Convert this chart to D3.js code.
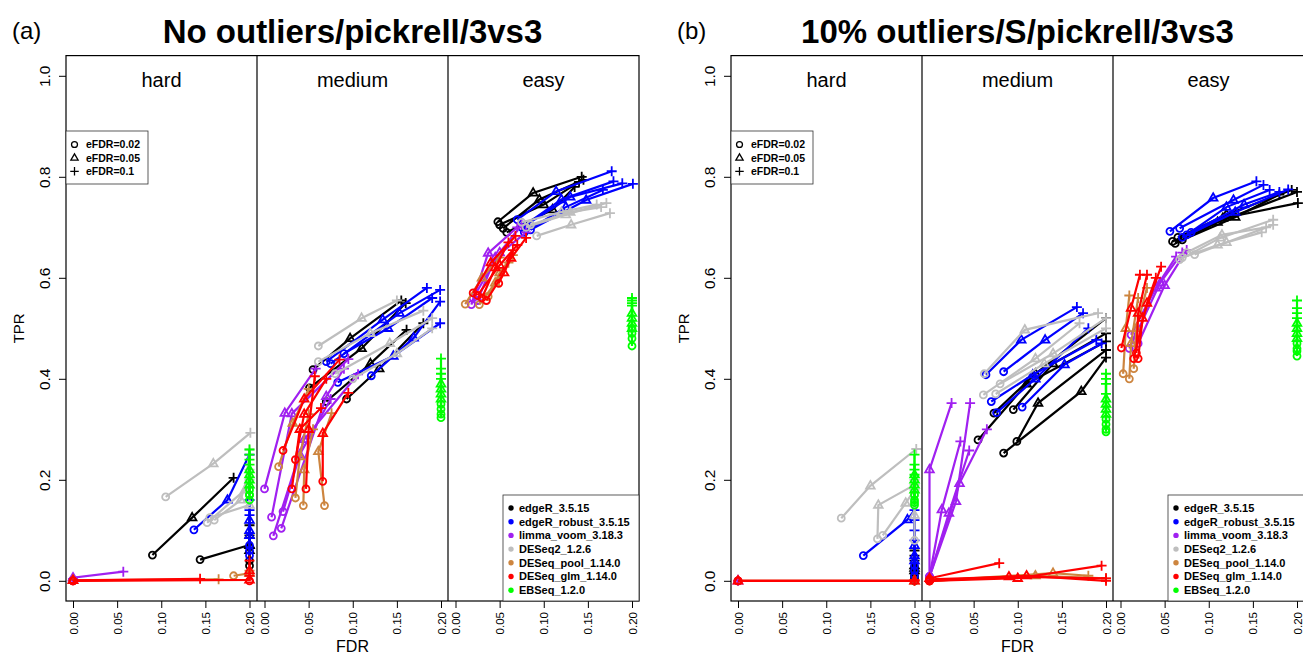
<!DOCTYPE html>
<html>
<head>
<meta charset="utf-8">
<script src="https://cdnjs.cloudflare.com/ajax/libs/d3/7.8.5/d3.min.js"></script>
<style>
  body { margin: 0; background: #fff; }
  svg { display: block; font-family: "Liberation Sans", Arial, sans-serif; }
</style>
</head>
<body>
<svg id="chart"></svg>
<script>
//*************** data ******************//

var methods = ["edgeR", "robust", "voom", "DESeq2", "pool", "glm", "EBSeq"];
var methodLabels = ["edgeR_3.5.15", "edgeR_robust_3.5.15", "limma_voom_3.18.3", "DESeq2_1.2.6",
                    "DESeq_pool_1.14.0", "DESeq_glm_1.14.0", "EBSeq_1.2.0"];
var methodColors = ["#000000", "#0000FF", "#A020F0", "#BEBEBE", "#CD853F", "#FF0000", "#00FF00"];
var difficulties = ["hard", "medium", "easy"];
var eFDRLabels = ["eFDR=0.02", "eFDR=0.05", "eFDR=0.1"];
var xTicks = [0, 0.05, 0.10, 0.15, 0.20];
var yTicks = [0, 0.2, 0.4, 0.6, 0.8, 1.0];
var panelTags = ["(a)", "(b)"];
var panelTitles = ["No outliers/pickrell/3vs3", "10% outliers/S/pickrell/3vs3"];

// one row = one replicate: [method, FDR@0.02, TPR@0.02, FDR@0.05, TPR@0.05, FDR@0.1, TPR@0.1]
var noOut_hard = [
  ["edgeR", 0.090,0.051, 0.135,0.125, 0.182,0.204],
  ["edgeR", 0.144,0.042, 0.200,0.071, 0.200,0.090],
  ["edgeR", 0.200,0.030, 0.200,0.060, 0.200,0.085],
  ["edgeR", 0.200,0.040, 0.200,0.070, 0.200,0.110],
  ["robust", 0.137,0.101, 0.175,0.160, 0.200,0.250],
  ["robust", 0.200,0.050, 0.200,0.100, 0.200,0.140],
  ["robust", 0.200,0.070, 0.200,0.120, 0.200,0.160],
  ["robust", 0.200,0.060, 0.200,0.090, 0.200,0.130],
  ["voom", 0.000,0.002, 0.000,0.006, 0.057,0.018],
  ["voom", 0.000,0.000, 0.000,0.002, 0.000,0.004],
  ["DESeq2", 0.105,0.166, 0.159,0.232, 0.201,0.293],
  ["DESeq2", 0.152,0.115, 0.195,0.180, 0.200,0.260],
  ["DESeq2", 0.160,0.120, 0.190,0.160, 0.200,0.220],
  ["DESeq2", 0.155,0.125, 0.200,0.150, 0.200,0.200],
  ["pool", 0.182,0.010, 0.200,0.015, 0.200,0.020],
  ["pool", 0.000,0.000, 0.000,0.001, 0.165,0.003],
  ["glm", 0.000,0.000, 0.000,0.001, 0.144,0.004],
  ["glm", 0.000,0.000, 0.200,0.002, 0.200,0.010],
  ["glm", 0.200,0.000, 0.200,0.020, 0.200,0.040],
  ["EBSeq", 0.200,0.160, 0.200,0.200, 0.200,0.260],
  ["EBSeq", 0.200,0.170, 0.200,0.210, 0.200,0.240],
  ["EBSeq", 0.200,0.180, 0.200,0.220, 0.200,0.250],
  ["EBSeq", 0.200,0.170, 0.200,0.190, 0.200,0.230]
];

var noOut_medium = [
  ["edgeR", 0.055,0.418, 0.097,0.480, 0.155,0.555],
  ["edgeR", 0.051,0.382, 0.110,0.460, 0.160,0.550],
  ["edgeR", 0.070,0.355, 0.120,0.430, 0.161,0.497],
  ["edgeR", 0.093,0.360, 0.130,0.420, 0.180,0.510],
  ["robust", 0.070,0.434, 0.134,0.517, 0.184,0.580],
  ["robust", 0.083,0.393, 0.146,0.445, 0.199,0.510],
  ["robust", 0.121,0.406, 0.169,0.481, 0.199,0.553],
  ["robust", 0.075,0.430, 0.153,0.530, 0.199,0.576],
  ["robust", 0.090,0.450, 0.140,0.500, 0.190,0.560],
  ["voom", 0.000,0.182, 0.023,0.332, 0.058,0.420],
  ["voom", 0.008,0.126, 0.031,0.331, 0.095,0.439],
  ["voom", 0.010,0.089, 0.045,0.280, 0.106,0.409],
  ["voom", 0.019,0.104, 0.070,0.365, 0.090,0.420],
  ["voom", 0.021,0.137, 0.040,0.250, 0.075,0.360],
  ["DESeq2", 0.061,0.465, 0.110,0.520, 0.150,0.555],
  ["DESeq2", 0.061,0.434, 0.120,0.490, 0.180,0.535],
  ["DESeq2", 0.080,0.410, 0.142,0.470, 0.190,0.520],
  ["DESeq2", 0.100,0.400, 0.150,0.450, 0.190,0.500],
  ["pool", 0.016,0.226, 0.032,0.312, 0.050,0.380],
  ["pool", 0.035,0.164, 0.040,0.246, 0.050,0.330],
  ["pool", 0.044,0.149, 0.045,0.220, 0.055,0.300],
  ["pool", 0.068,0.149, 0.061,0.256, 0.076,0.332],
  ["glm", 0.021,0.258, 0.045,0.360, 0.085,0.438],
  ["glm", 0.031,0.182, 0.040,0.300, 0.064,0.342],
  ["glm", 0.047,0.182, 0.050,0.300, 0.057,0.405],
  ["glm", 0.066,0.197, 0.066,0.292, 0.095,0.372],
  ["glm", 0.035,0.240, 0.045,0.330, 0.070,0.400],
  ["EBSeq", 0.200,0.323, 0.200,0.370, 0.200,0.440],
  ["EBSeq", 0.200,0.340, 0.200,0.380, 0.200,0.410],
  ["EBSeq", 0.200,0.350, 0.200,0.390, 0.200,0.400],
  ["EBSeq", 0.200,0.330, 0.200,0.360, 0.200,0.420]
];

var noOut_easy = [
  ["edgeR", 0.048,0.711, 0.088,0.768, 0.143,0.800],
  ["edgeR", 0.054,0.698, 0.095,0.755, 0.145,0.794],
  ["edgeR", 0.050,0.705, 0.100,0.745, 0.140,0.790],
  ["edgeR", 0.058,0.690, 0.110,0.735, 0.135,0.780],
  ["robust", 0.070,0.715, 0.114,0.771, 0.177,0.811],
  ["robust", 0.075,0.700, 0.120,0.755, 0.179,0.791],
  ["robust", 0.080,0.705, 0.130,0.760, 0.189,0.787],
  ["robust", 0.085,0.695, 0.148,0.754, 0.201,0.786],
  ["robust", 0.078,0.690, 0.125,0.740, 0.167,0.774],
  ["voom", 0.018,0.547, 0.037,0.649, 0.070,0.700],
  ["voom", 0.025,0.555, 0.045,0.640, 0.080,0.690],
  ["voom", 0.020,0.560, 0.050,0.650, 0.075,0.705],
  ["DESeq2", 0.092,0.683, 0.131,0.705, 0.175,0.728],
  ["DESeq2", 0.080,0.700, 0.125,0.725, 0.171,0.748],
  ["DESeq2", 0.085,0.705, 0.130,0.730, 0.165,0.740],
  ["DESeq2", 0.075,0.710, 0.120,0.730, 0.160,0.745],
  ["pool", 0.011,0.548, 0.030,0.600, 0.050,0.640],
  ["pool", 0.027,0.547, 0.045,0.590, 0.060,0.630],
  ["pool", 0.037,0.563, 0.050,0.610, 0.065,0.645],
  ["glm", 0.020,0.570, 0.040,0.630, 0.068,0.683],
  ["glm", 0.049,0.589, 0.063,0.639, 0.080,0.679],
  ["glm", 0.030,0.560, 0.045,0.620, 0.060,0.670],
  ["glm", 0.025,0.565, 0.050,0.625, 0.070,0.665],
  ["glm", 0.035,0.555, 0.055,0.610, 0.065,0.655],
  ["EBSeq", 0.200,0.465, 0.200,0.500, 0.200,0.560],
  ["EBSeq", 0.200,0.480, 0.200,0.520, 0.200,0.550],
  ["EBSeq", 0.200,0.490, 0.200,0.510, 0.200,0.545],
  ["EBSeq", 0.200,0.500, 0.200,0.530, 0.200,0.555]
];

var out_hard = [
  ["edgeR", 0.200,0.000, 0.200,0.020, 0.200,0.050],
  ["edgeR", 0.200,0.010, 0.200,0.030, 0.200,0.060],
  ["edgeR", 0.200,0.005, 0.200,0.025, 0.200,0.040],
  ["robust", 0.142,0.050, 0.192,0.121, 0.200,0.140],
  ["robust", 0.200,0.030, 0.200,0.070, 0.200,0.100],
  ["robust", 0.200,0.020, 0.200,0.050, 0.200,0.120],
  ["robust", 0.200,0.010, 0.200,0.040, 0.200,0.080],
  ["voom", 0.000,0.000, 0.000,0.000, 0.000,0.000],
  ["DESeq2", 0.117,0.124, 0.150,0.188, 0.202,0.261],
  ["DESeq2", 0.158,0.083, 0.159,0.150, 0.200,0.190],
  ["DESeq2", 0.164,0.090, 0.190,0.154, 0.200,0.180],
  ["DESeq2", 0.200,0.080, 0.200,0.130, 0.200,0.200],
  ["pool", 0.000,0.000, 0.200,0.000, 0.200,0.000],
  ["glm", 0.000,0.000, 0.200,0.000, 0.200,0.002],
  ["glm", 0.000,0.000, 0.000,0.000, 0.200,0.000],
  ["EBSeq", 0.200,0.150, 0.200,0.190, 0.200,0.250],
  ["EBSeq", 0.200,0.160, 0.200,0.200, 0.200,0.230],
  ["EBSeq", 0.200,0.170, 0.200,0.210, 0.200,0.220],
  ["EBSeq", 0.200,0.155, 0.200,0.180, 0.200,0.210]
];

var out_medium = [
  ["edgeR", 0.084,0.253, 0.172,0.375, 0.200,0.442],
  ["edgeR", 0.099,0.276, 0.123,0.352, 0.200,0.457],
  ["edgeR", 0.055,0.279, 0.110,0.390, 0.200,0.474],
  ["edgeR", 0.073,0.332, 0.120,0.410, 0.200,0.520],
  ["edgeR", 0.095,0.339, 0.140,0.430, 0.200,0.490],
  ["robust", 0.064,0.408, 0.104,0.477, 0.167,0.542],
  ["robust", 0.084,0.414, 0.131,0.477, 0.174,0.530],
  ["robust", 0.070,0.355, 0.117,0.408, 0.189,0.477],
  ["robust", 0.105,0.344, 0.153,0.428, 0.195,0.470],
  ["robust", 0.076,0.333, 0.120,0.400, 0.180,0.500],
  ["voom", 0.000,0.008, 0.000,0.220, 0.025,0.352],
  ["voom", 0.000,0.008, 0.030,0.157, 0.046,0.352],
  ["voom", 0.000,0.008, 0.014,0.141, 0.035,0.276],
  ["voom", 0.000,0.008, 0.022,0.134, 0.045,0.258],
  ["voom", 0.000,0.008, 0.034,0.193, 0.065,0.300],
  ["DESeq2", 0.062,0.410, 0.108,0.497, 0.191,0.530],
  ["DESeq2", 0.061,0.368, 0.120,0.440, 0.170,0.510],
  ["DESeq2", 0.075,0.370, 0.130,0.430, 0.200,0.500],
  ["DESeq2", 0.080,0.390, 0.140,0.450, 0.200,0.520],
  ["pool", 0.000,0.000, 0.140,0.015, 0.180,0.010],
  ["pool", 0.000,0.000, 0.120,0.010, 0.200,0.005],
  ["glm", 0.000,0.000, 0.000,0.005, 0.079,0.035],
  ["glm", 0.000,0.000, 0.100,0.005, 0.195,0.030],
  ["glm", 0.000,0.003, 0.090,0.008, 0.200,0.005],
  ["glm", 0.000,0.000, 0.110,0.010, 0.200,0.000],
  ["EBSeq", 0.200,0.295, 0.200,0.330, 0.200,0.410],
  ["EBSeq", 0.200,0.310, 0.200,0.350, 0.200,0.390],
  ["EBSeq", 0.200,0.320, 0.200,0.340, 0.200,0.370],
  ["EBSeq", 0.200,0.300, 0.200,0.360, 0.200,0.400]
];

var out_easy = [
  ["edgeR", 0.059,0.672, 0.116,0.718, 0.201,0.748],
  ["edgeR", 0.065,0.680, 0.120,0.725, 0.194,0.774],
  ["edgeR", 0.070,0.675, 0.130,0.720, 0.180,0.765],
  ["edgeR", 0.062,0.668, 0.110,0.710, 0.200,0.770],
  ["robust", 0.056,0.692, 0.105,0.758, 0.154,0.791],
  ["robust", 0.067,0.698, 0.128,0.754, 0.162,0.784],
  ["robust", 0.075,0.685, 0.120,0.740, 0.169,0.774],
  ["robust", 0.070,0.680, 0.130,0.730, 0.190,0.775],
  ["robust", 0.080,0.690, 0.140,0.745, 0.180,0.770],
  ["voom", 0.012,0.487, 0.040,0.580, 0.063,0.642],
  ["voom", 0.010,0.460, 0.045,0.590, 0.070,0.650],
  ["voom", 0.020,0.470, 0.050,0.585, 0.075,0.655],
  ["DESeq2", 0.067,0.636, 0.113,0.679, 0.173,0.715],
  ["DESeq2", 0.084,0.646, 0.120,0.670, 0.173,0.705],
  ["DESeq2", 0.075,0.650, 0.115,0.685, 0.165,0.700],
  ["DESeq2", 0.070,0.640, 0.110,0.665, 0.160,0.690],
  ["pool", 0.003,0.410, 0.006,0.500, 0.010,0.565],
  ["pool", 0.010,0.400, 0.012,0.470, 0.020,0.560],
  ["pool", 0.015,0.420, 0.018,0.500, 0.030,0.580],
  ["glm", 0.001,0.461, 0.012,0.540, 0.022,0.606],
  ["glm", 0.018,0.451, 0.020,0.530, 0.030,0.606],
  ["glm", 0.020,0.440, 0.025,0.520, 0.046,0.622],
  ["glm", 0.015,0.440, 0.030,0.550, 0.040,0.600],
  ["EBSeq", 0.200,0.445, 0.200,0.500, 0.200,0.555],
  ["EBSeq", 0.200,0.460, 0.200,0.490, 0.200,0.530],
  ["EBSeq", 0.200,0.470, 0.200,0.510, 0.200,0.540],
  ["EBSeq", 0.200,0.455, 0.200,0.480, 0.200,0.520]
];

var panelData = [[noOut_hard, noOut_medium, noOut_easy], [out_hard, out_medium, out_easy]];

//*************** layout ******************//

var W = 1303, H = 655;
var panelShift = 665;        // (b) is drawn 665px to the right of (a)
var frame = {left: 66, right: 639, top: 55.6, bottom: 601};
var subStart = [73, 264.5, 455.5], subSpan = 176.5;
var dividers = [257, 448];

var svg = d3.select("#chart").attr("width", W).attr("height", H);

var color = d3.scaleOrdinal().domain(methods).range(methodColors);
var yScale = d3.scaleLinear().domain([-0.04, 1.04]).range([frame.bottom, frame.top]);

// marker paths: 0 = open circle, 1 = open triangle, 2 = plus
function markerPath(k) {
  if (k === 0) { var p = d3.path(); p.arc(0, 0, 3.5, 0, 2 * Math.PI); return p.toString(); }
  if (k === 1) return "M0,-4.8L4.3,2.7L-4.3,2.7Z";
  return "M-5,0H5M0,-5V5";
}

panelTags.forEach(function (tag, p) {
  var ox = p * panelShift;
  var g = svg.append("g").attr("transform", "translate(" + ox + ",0)");

  // titles
  g.append("text").attr("x", 12).attr("y", 39).attr("font-size", "24px").text(tag);
  g.append("text")
    .attr("x", (frame.left + frame.right) / 2).attr("y", 43)
    .attr("text-anchor", "middle").attr("font-size", "33px").attr("font-weight", "bold")
    .text(panelTitles[p]);

  // y axis
  var yAxis = d3.axisLeft(yScale).tickValues(yTicks).tickSize(7).tickFormat(d3.format(".1f"));
  var ya = g.append("g").attr("transform", "translate(" + frame.left + ",0)").call(yAxis);
  ya.select(".domain").remove();
  ya.selectAll(".tick line").attr("stroke", "#000");
  ya.selectAll(".tick text")
    .attr("transform", "rotate(-90)")
    .attr("x", 0).attr("y", -16).attr("dy", 0)
    .attr("text-anchor", "middle").attr("font-size", "15.5px").attr("fill", "#000")
    .attr("font-family", "Liberation Sans, Arial, sans-serif");

  g.append("text")
    .attr("transform", "translate(24," + yScale(0.5) + ") rotate(-90)")
    .attr("text-anchor", "middle").attr("font-size", "15px").text("TPR");
  g.append("text")
    .attr("x", (frame.left + frame.right) / 2).attr("y", 652)
    .attr("text-anchor", "middle").attr("font-size", "16px").text("FDR");

  // sub-panels
  difficulties.forEach(function (diff, s) {
    var xScale = d3.scaleLinear().domain([0, 0.2]).range([subStart[s], subStart[s] + subSpan]);

    var xAxis = d3.axisBottom(xScale).tickValues(xTicks).tickSize(7).tickFormat(d3.format(".2f"));
    var xa = g.append("g").attr("transform", "translate(0," + frame.bottom + ")").call(xAxis);
    xa.select(".domain").remove();
    xa.selectAll(".tick line").attr("stroke", "#000");
    xa.selectAll(".tick text")
      .attr("transform", "rotate(-90)")
      .attr("x", -11).attr("y", 0).attr("dy", "0.35em")
      .attr("text-anchor", "end").attr("font-size", "11.5px").attr("fill", "#000")
      .attr("font-family", "Liberation Sans, Arial, sans-serif");

    var cx = s === 0 ? (frame.left + dividers[0]) / 2 : s === 1 ? (dividers[0] + dividers[1]) / 2 : (dividers[1] + frame.right) / 2;
    g.append("text").attr("x", cx).attr("y", 87).attr("text-anchor", "middle")
      .attr("font-size", "20px").text(diff);

    var rows = panelData[p][s];
    var line = d3.line()
      .x(function (d) { return xScale(d[0]); })
      .y(function (d) { return yScale(d[1]); });

    var sub = g.append("g").attr("class", "sub-" + diff);
    methods.forEach(function (m) {
      var mine = rows.filter(function (r) { return r[0] === m; });
      mine.forEach(function (r) {
        var pts = [[r[1], r[2]], [r[3], r[4]], [r[5], r[6]]];
        sub.append("path").datum(pts)
          .attr("fill", "none").attr("stroke", color(m)).attr("stroke-width", 2.2)
          .attr("d", line);
        sub.selectAll(null).data(pts).enter().append("path")
          .attr("transform", function (d) { return "translate(" + xScale(d[0]) + "," + yScale(d[1]) + ")"; })
          .attr("d", function (d, i) { return markerPath(i); })
          .attr("fill", "none").attr("stroke", color(m)).attr("stroke-width", 1.8);
      });
    });
  });

  // frame and dividers
  g.append("rect")
    .attr("x", frame.left).attr("y", frame.top)
    .attr("width", frame.right - frame.left).attr("height", frame.bottom - frame.top)
    .attr("fill", "none").attr("stroke", "#000").attr("stroke-width", 1.2);
  dividers.forEach(function (dx) {
    g.append("line").attr("x1", dx).attr("x2", dx).attr("y1", frame.top).attr("y2", frame.bottom)
      .attr("stroke", "#000").attr("stroke-width", 1.2);
  });

  // eFDR legend
  var el = g.append("g").attr("transform", "translate(" + frame.left + ",131)");
  el.append("rect").attr("width", 82).attr("height", 53).attr("fill", "#fff").attr("stroke", "#333").attr("stroke-width", 0.8);
  eFDRLabels.forEach(function (lab, i) {
    el.append("path").attr("transform", "translate(8.5," + (13.5 + i * 13.4) + ") scale(0.85)")
      .attr("d", markerPath(i)).attr("fill", "none").attr("stroke", "#000").attr("stroke-width", 1.5);
    el.append("text").attr("x", 20).attr("y", 13.5 + i * 13.4).attr("dy", "0.35em")
      .attr("font-size", "10.5px").attr("font-weight", "bold").text(lab);
  });

  // method legend
  var ml = g.append("g").attr("transform", "translate(503,495)");
  ml.append("rect").attr("width", frame.right - 503).attr("height", frame.bottom - 495)
    .attr("fill", "#fff").attr("stroke", "#333").attr("stroke-width", 0.8);
  methodLabels.forEach(function (lab, i) {
    ml.append("circle").attr("cx", 8).attr("cy", 13 + i * 13.7).attr("r", 2.7).attr("fill", methodColors[i]);
    ml.append("text").attr("x", 16).attr("y", 13 + i * 13.7).attr("dy", "0.35em")
      .attr("font-size", "11px").attr("font-weight", "bold").text(lab);
  });
});
</script>
</body>
</html>
